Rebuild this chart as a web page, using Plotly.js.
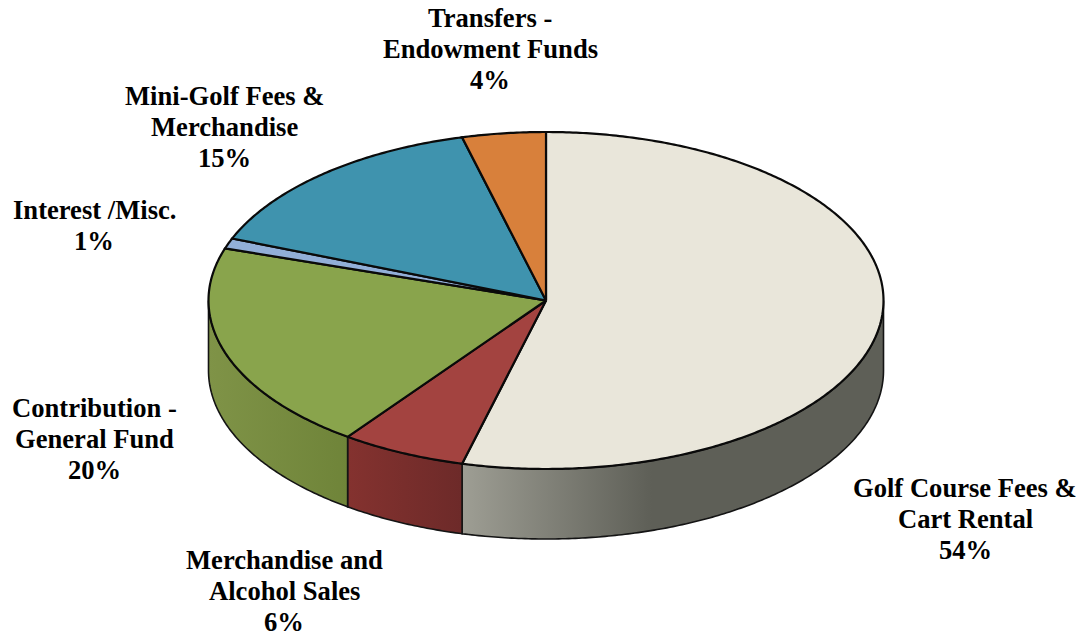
<!DOCTYPE html>
<html>
<head>
<meta charset="utf-8">
<script src="https://cdn.plot.ly/plotly-3.0.1.min.js"></script>
<style>html,body{margin:0;padding:0;background:#fff}#chart{width:1081px;height:637px}</style>
</head>
<body>
<div id="chart"></div>
<script>
// Revenue shares, clockwise from twelve o'clock
const categories = ['Golf Course Fees &|Cart Rental', 'Merchandise and|Alcohol Sales', 'Contribution -|General Fund', 'Interest /Misc.', 'Mini-Golf Fees &|Merchandise', 'Transfers -|Endowment Funds'];
const shares = [54, 6, 20, 1, 15, 4];
const topColors = ['#E9E6DA', '#A34340', '#89A44C', '#92AFD8', '#3F93AE', '#D8803B'];
const wallColors = [
  [[0, '#9E9E94'], [0.45, '#5E5F57'], [1, '#5E5F57']],
  [[0, '#84322F'], [1, '#6D2A29']],
  [[0, '#7F9347'], [1, '#6F8439']],
  null, null, null
];
const labelX = [965, 284, 94.5, 94, 224, 490];
const labelY = [519, 591, 439, 225, 127, 49];

// Projection of the tilted disc onto the plot's pixel-sized axes
const cx = 546, cy = 300.5, rx = 337.5, ry = 168.5, depth = 70;
const linePitch = 31;
const px = a => cx + rx * Math.sin(a);
const py = (a, drop) => cy - ry * Math.cos(a) + drop;
const total = shares.reduce((s, v) => s + v, 0);

function arc(a0, a1, drop) {
  const n = Math.max(2, Math.ceil(Math.abs(a1 - a0) / 0.01));
  const pts = [];
  for (let i = 0; i <= n; i++) {
    const a = a0 + (a1 - a0) * i / n;
    pts.push([px(a), py(a, drop)]);
  }
  return pts;
}

const walls = [], tops = [];
let cumulative = 0;
shares.forEach((v, i) => {
  const a0 = cumulative / total * 2 * Math.PI;
  cumulative += v;
  const a1 = cumulative / total * 2 * Math.PI;

  const top = [[cx, cy], ...arc(a0, a1, 0), [cx, cy]];
  tops.push({
    x: top.map(p => p[0]), y: top.map(p => p[1]),
    mode: 'lines', fill: 'toself', fillcolor: topColors[i],
    line: {color: '#0a0a0a', width: 2.2, simplify: false},
    hoverinfo: 'skip', showlegend: false
  });

  // Only the front half of the rim faces the viewer
  const w0 = Math.max(a0, Math.PI / 2), w1 = Math.min(a1, 3 * Math.PI / 2);
  if (w1 > w0 && wallColors[i]) {
    const wall = [...arc(w0, w1, 0), ...arc(w1, w0, depth)];
    wall.push(wall[0]);
    const xs = wall.map(p => p[0]);
    walls.push({
      x: xs, y: wall.map(p => p[1]),
      mode: 'lines', fill: 'toself',
      fillgradient: {type: 'horizontal', colorscale: wallColors[i], start: Math.min(...xs), stop: Math.max(...xs)},
      line: {color: '#141414', width: 1.6, simplify: false},
      hoverinfo: 'skip', showlegend: false
    });
  }
});

// One annotation per text line keeps the line pitch independent of the font size
const annotations = [];
categories.forEach((c, i) => {
  const lines = [...c.split('|'), shares[i] + '%'];
  lines.forEach((line, j) => annotations.push({
    text: '<b>' + line + '</b>',
    x: labelX[i], y: labelY[i] + (j - (lines.length - 1) / 2) * linePitch,
    xref: 'x', yref: 'y', xanchor: 'center', yanchor: 'middle', align: 'center', showarrow: false,
    font: {family: '"Liberation Serif", serif', size: 26.6, color: '#000'}
  }));
});

Plotly.newPlot('chart', [...walls, ...tops], {
  width: 1081, height: 637,
  margin: {l: 0, r: 0, t: 0, b: 0},
  paper_bgcolor: '#fff', plot_bgcolor: '#fff',
  xaxis: {range: [0, 1081], visible: false, fixedrange: true},
  yaxis: {range: [637, 0], visible: false, fixedrange: true},
  annotations: annotations,
  showlegend: false
}, {displayModeBar: false, staticPlot: true});
</script>
</body>
</html>
